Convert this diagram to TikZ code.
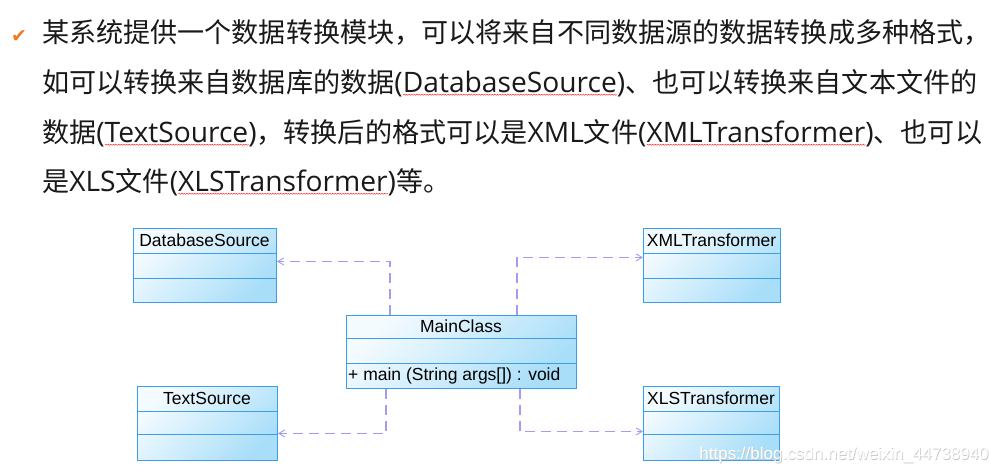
\documentclass[tikz,border=0pt]{standalone}
\usepackage{fontspec}
\setmainfont{Noto Sans CJK SC}
\newfontfamily\lat[Scale=1.04]{Open Sans}
\newfontfamily\umlfont{Liberation Sans}
\newfontfamily\symfont{DejaVu Sans}
\usetikzlibrary{arrows.meta,decorations.pathmorphing}
\definecolor{clsborder}{HTML}{3C9EE8}
\definecolor{clsdark}{HTML}{A9DEF9}
\definecolor{clslight}{HTML}{F4FBFF}
\definecolor{depcol}{HTML}{A39CF0}
\definecolor{checkcol}{HTML}{EE7A24}
\newsavebox\wvbox
\newcommand\wv[1]{\sbox\wvbox{#1}\rlap{\raisebox{-2.5pt}{\tikz\draw[red!85!white,line width=0.45pt,decorate,decoration={snake,amplitude=0.55pt,segment length=2.6pt}] (0pt,0pt) -- (\wd\wvbox,0pt);}}\usebox\wvbox}
\tikzset{
  cls/.style={draw=clsborder, line width=0.9pt, inner sep=0pt, anchor=north west,
    top color=clslight, bottom color=clsdark, shading angle=45},
  clsline/.style={draw=clsborder, line width=0.9pt},
  clstitle/.style={font=\umlfont\fontsize{17.5}{20}\selectfont, inner sep=0pt, text=black},
  dep/.style={draw=depcol, line width=1.3pt, dash pattern=on 10pt off 6pt,
    -{Straight Barb[length=6pt,width=7pt,line width=0.9pt]}},
  headline/.style={font=\fontsize{27.1}{30}\selectfont, anchor=base west, inner sep=0pt, text=black!90}
}
\begin{document}
\begin{tikzpicture}[x=1pt,y=-1pt]
\useasboundingbox (0,0) rectangle (989,473);
\fill[white] (0,0) rectangle (989,473);

% heading
\node[font=\symfont\fontsize{19}{22}\selectfont, text=checkcol, inner sep=0pt] (chk) at (19,37) {✔};
\node[headline] (l1) at (42,43) {某系统提供一个数据转换模块，可以将来自不同数据源的数据转换成多种格式，};
\node[headline] (l2) at (42,93) {如可以转换来自数据库的数据{\lat(\wv{DatabaseSource})}、也可以转换来自文本文件的};
\node[headline] (l3) at (42,143) {数据{\lat(\wv{TextSource})}，转换后的格式可以是{\lat XML}文件{\lat(\wv{XMLTransformer})}、也可以};
\node[headline] (l4) at (42,192) {是{\lat XLS}文件{\lat(\wv{XLSTransformer})}等。};

% classes
\node[cls, minimum width=143pt, minimum height=74pt] (db) at (133,228) {};
\draw[clsline] (db.west |- 0,253) -- (db.east |- 0,253);
\draw[clsline] (db.west |- 0,278) -- (db.east |- 0,278);
\node[clstitle] (dbt) at (204.5,240) {DatabaseSource};

\node[cls, minimum width=137pt, minimum height=74pt] (xml) at (643,228) {};
\draw[clsline] (xml.west |- 0,253) -- (xml.east |- 0,253);
\draw[clsline] (xml.west |- 0,278) -- (xml.east |- 0,278);
\node[clstitle] (xmlt) at (711.5,240) {XMLTransformer};

\node[cls, minimum width=230pt, minimum height=73pt] (mc) at (346,315) {};
\draw[clsline] (mc.west |- 0,338) -- (mc.east |- 0,338);
\draw[clsline] (mc.west |- 0,363) -- (mc.east |- 0,363);
\node[clstitle] (mct) at (461,326) {MainClass};
\node[clstitle, anchor=west] (mcm) at (348,375.5) {+ main (String args[]) : void};

\node[cls, minimum width=140pt, minimum height=74pt] (ts) at (137,386) {};
\draw[clsline] (ts.west |- 0,411) -- (ts.east |- 0,411);
\draw[clsline] (ts.west |- 0,434) -- (ts.east |- 0,434);
\node[clstitle] (tst) at (207,398) {TextSource};

\node[cls, minimum width=136pt, minimum height=74pt] (xls) at (643,386) {};
\draw[clsline] (xls.west |- 0,411) -- (xls.east |- 0,411);
\draw[clsline] (xls.west |- 0,434) -- (xls.east |- 0,434);
\node[clstitle] (xlst) at (711,398) {XLSTransformer};

% dependencies
\draw[dep] ([xshift=44pt]mc.north west) |- ([yshift=4pt]db.east);
\draw[dep] ([xshift=171pt]mc.north west) |- ([yshift=8pt]xml.west);
\draw[dep] ([xshift=40pt]mc.south west) |- ([yshift=-10pt]ts.east);
\draw[dep] ([xshift=174pt]mc.south west) |- ([yshift=-8pt]xls.west);

% watermark
\node[font=\umlfont\fontsize{17}{20}\selectfont, text=gray!45, inner sep=0pt] (wm0) at (844.7,455.7) {https://blog.csdn.net/weixin\_44738940};
\node[font=\umlfont\fontsize{17}{20}\selectfont, text=white, inner sep=0pt] (wm) at (844,455) {https://blog.csdn.net/weixin\_44738940};
\end{tikzpicture}
\end{document}
